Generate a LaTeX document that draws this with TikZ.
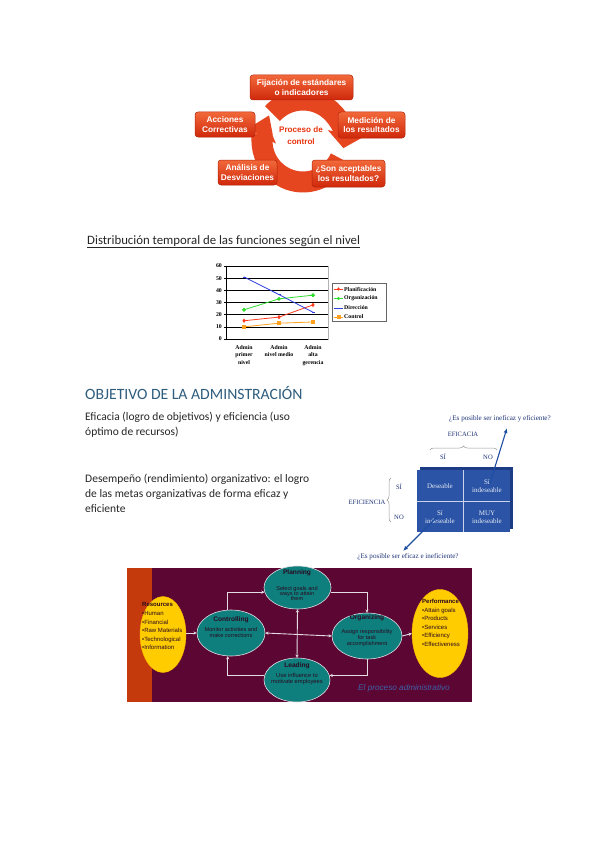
\documentclass[tikz,border=0pt]{standalone}
\usepackage{fontspec}
\setmainfont{Liberation Sans}
\newfontfamily\bodyfont{Carlito}
\newfontfamily\chartfont{Liberation Serif}
\usetikzlibrary{arrows.meta,positioning,calc,shapes.geometric,decorations.pathreplacing,plotmarks}
\definecolor{RingRed}{HTML}{E5461F}
\definecolor{BoxTop}{HTML}{F2693A}
\definecolor{BoxBot}{HTML}{CF280B}
\definecolor{BoxEdge}{HTML}{B3230B}
\definecolor{CtrRed}{HTML}{E8320C}
\definecolor{BodyGray}{HTML}{262626}
\definecolor{HeadBlue}{HTML}{2F5D7E}
\definecolor{PlanRed}{HTML}{FF3A1E}
\definecolor{OrgGreen}{HTML}{2EDD2E}
\definecolor{DirBlue}{HTML}{2F3FE0}
\definecolor{CtlOrange}{HTML}{FFA01E}
\definecolor{MatBlue}{HTML}{2B54A6}
\definecolor{MatDark}{HTML}{1C3D86}
\definecolor{MatText}{HTML}{1F3577}
\definecolor{ArrBlue}{HTML}{1D4EA2}
\definecolor{Maroon}{HTML}{5C0633}
\definecolor{StripRed}{HTML}{C43A0C}
\definecolor{TealE}{HTML}{0E7F7C}
\definecolor{YellowE}{HTML}{FFCC00}
\definecolor{ConnGray}{HTML}{E4DCE2}
\definecolor{LabBlue}{HTML}{3D62A8}
\definecolor{InkDark}{HTML}{2A0A22}

\begin{document}
\begin{tikzpicture}[x=1pt,y=-1pt,
    ring/.style={draw=RingRed,line width=21pt,-{Triangle[width=36pt,length=15pt]}},
    cycbox/.style={rounded corners=3pt,top color=BoxTop,bottom color=BoxBot,draw=BoxEdge,line width=.5pt,
      text=white,align=center,inner sep=1pt,font=\bfseries\fontsize{8.3}{9.6}\selectfont},
    bodytxt/.style={anchor=base west,inner sep=0,text=BodyGray,font=\bodyfont\fontsize{11.5}{12}\selectfont},
    gridln/.style={draw=black,line width=.5pt},
    ser/.style={line width=.8pt,mark size=1.5pt,mark options={solid}},
    chtxt/.style={inner sep=0,font=\chartfont\bfseries\fontsize{5.8}{7.4}\selectfont},
    mtxt/.style={inner sep=0,text=MatText,font=\chartfont\fontsize{6.6}{7}\selectfont},
    cell/.style={inner sep=0,align=center,text=white!88!MatBlue,font=\chartfont\fontsize{7}{8}\selectfont},
    brace/.style={decorate,decoration={brace,amplitude=4pt},draw=gray!80,line width=.5pt},
    qarrow/.style={draw=ArrBlue,line width=1.1pt,-{Latex[length=5pt,width=4pt]}},
    yell/.style={ellipse,fill=YellowE,draw=YellowE!70!orange,line width=.4pt,inner sep=0},
    tealell/.style={ellipse,fill=TealE,draw=ConnGray,line width=.6pt,inner sep=0},
    ehead/.style={inner sep=0,text=InkDark,font=\bfseries\fontsize{6.6}{7}\selectfont},
    ebody/.style={inner sep=0,align=center,text=InkDark,font=\fontsize{5.6}{6.3}\selectfont},
    elist/.style={inner sep=0,align=left,anchor=north west,text=InkDark,font=\fontsize{6}{8.6}\selectfont},
    conn/.style={draw=ConnGray,line width=.9pt,>={Stealth[length=3.2pt,width=3.2pt]},->},
    dconn/.style={conn,<->}]
\useasboundingbox (0,0) rectangle (599,848);
\fill[white] (0,0) rectangle (599,848);

% ciclo de control
\coordinate (rc) at (303,141);
\draw[ring] ($(rc)+(222:41)$) arc[start angle=222,end angle=370,radius=41];
\draw[ring] ($(rc)+(25:41)$) arc[start angle=25,end angle=208,radius=41];
\node[cycbox,minimum width=103,minimum height=25] (fij) at (301.5,87.5) {Fijación de estándares\\o indicadores};
\node[cycbox,minimum width=60,minimum height=25] (acc) at (225,124.5) {Acciones\\Correctivas};
\node[cycbox,minimum width=67,minimum height=26] (med) at (371.5,125) {Medición de\\los resultados};
\node[cycbox,minimum width=59,minimum height=25] (ana) at (247.5,172.5) {Análisis de\\Desviaciones};
\node[cycbox,minimum width=73,minimum height=27] (son) at (348.5,173.5) {¿Son aceptables\\los resultados?};
\node[inner sep=0,align=center,text=CtrRed,font=\bfseries\fontsize{8.1}{12}\selectfont] (pc) at (301,136) {Proceso de\\control};

% textos
\node[bodytxt,font=\bodyfont\fontsize{12.8}{13}\selectfont] (dist) at (87,244) {\underline{Distribución temporal de las funciones según el nivel}};
\node[bodytxt,text=HeadBlue,font=\bodyfont\fontsize{15.7}{16}\selectfont] (obj) at (85,399) {OBJETIVO DE LA ADMINSTRACIÓN};
\node[bodytxt] (e1) at (85,420) {Eficacia (logro de objetivos) y eficiencia (uso};
\node[bodytxt] (e2) at (85,435) {óptimo de recursos)};
\node[bodytxt] (d1) at (85,482) {Desempeño (rendimiento) organizativo: el logro};
\node[bodytxt] (d2) at (85,497) {de las metas organizativas de forma eficaz y};
\node[bodytxt] (d3) at (85,512) {eficiente};

% grafico
\begin{scope}[shift={(226,339)},y=1.217pt]
  \draw[draw=gray!60,line width=.4pt] (0,0) rectangle (102,60);
  \foreach \v in {10,20,...,60} \draw[gridln] (0,\v) -- (102,\v);
  \draw[gridln] (0,0) -- (0,60) (0,0) -- (102,0);
  \foreach \v in {0,10,...,60} {
    \draw[gridln] (-2,\v) -- (0,\v);
    \node[chtxt,anchor=east] (yt\v) at (-4,\v) {\v};
  }
  \draw[ser,PlanRed,mark=diamond*] plot coordinates {(18,15) (53,18) (87,28)};
  \draw[ser,OrgGreen,mark=*] plot coordinates {(18,24) (53,33) (87,36)};
  \draw[ser,DirBlue,mark=-] plot coordinates {(18,51) (53,36.5) (87,22)};
  \draw[ser,CtlOrange,mark=square*] plot coordinates {(18,10) (53,13) (87,14)};
\end{scope}
\node[draw=black!60,fill=white,line width=.4pt,minimum width=54,minimum height=38,inner sep=0] (leg) at (359,302) {};
\foreach \nm/\col/\mk/\yy [count=\i] in {Planificación/PlanRed/diamond*/289,Organización/OrgGreen/*/298.5,Dirección/DirBlue/-/308,Control/CtlOrange/square*/317}{
  \draw[\col,line width=.8pt] (334,\yy) -- (343,\yy);
  \draw[\col,mark=\mk,mark size=1.4pt] plot coordinates {(338.5,\yy)};
  \node[chtxt,anchor=west] (leg\i) at (344,\yy) {\nm};
}
\node[chtxt,anchor=north,align=center] (cat1) at (244,345) {Admin\\primer\\nivel};
\node[chtxt,anchor=north,align=center] (cat2) at (279,345) {Admin\\nivel medio};
\node[chtxt,anchor=north,align=center] (cat3) at (313,345) {Admin\\alta\\gerencia};

% matriz eficacia / eficiencia
\fill[MatDark] (420,467) rectangle (513,529);
\fill[MatBlue] (417,470) rectangle (510,532);
\draw[white!75!MatBlue,line width=.8pt] (463.5,470) -- (463.5,532) (417,501) -- (510,501);
\node[cell] (c11) at (440,486) {Deseable};
\node[cell] (c12) at (487,486) {Sí\\indeseable};
\node[cell] (c21) at (440,517) {Sí\\indeseable};
\node[cell] (c22) at (487,517) {MUY\\indeseable};
\draw[brace] (430,450) -- (497,450);
\draw[brace] (391,522) -- (391,478);
\node[mtxt] (eficacia) at (463,434) {EFICACIA};
\node[mtxt] (siTop) at (443,457) {SÍ};
\node[mtxt] (noTop) at (488,457) {NO};
\node[mtxt] (siIzq) at (399,487) {SÍ};
\node[mtxt] (noIzq) at (399,517) {NO};
\node[mtxt] (eficiencia) at (367,502) {EFICIENCIA};
\node[mtxt,font=\chartfont\fontsize{7.1}{8}\selectfont] (preg1) at (500,419) {¿Es posible ser ineficaz y eficiente?};
\node[mtxt,font=\chartfont\fontsize{7.1}{8}\selectfont] (preg2) at (408,557) {¿Es posible ser eficaz e ineficiente?};
\coordinate (p1s) at (490,483);
\coordinate (p1e) at (507,428);
\coordinate (p2s) at (437,517);
\coordinate (p2e) at (403,551);
\draw[qarrow] (p1s) -- (p1e);
\draw[qarrow] (p2s) -- (p2e);

% proceso administrativo
\fill[Maroon] (127,568) rectangle (472,702);
\fill[StripRed] (127,568) rectangle (152,702);
\node[yell,minimum width=46,minimum height=76] (res) at (163,634.5) {};
\node[yell,minimum width=56,minimum height=88] (perf) at (440,633.5) {};
\node[tealell,minimum width=67,minimum height=43] (plan) at (297.5,587.5) {};
\node[tealell,minimum width=68,minimum height=46] (ctrl) at (231,633) {};
\node[tealell,minimum width=70,minimum height=46] (org) at (367,636) {};
\node[tealell,minimum width=66,minimum height=44] (lead) at (297,680) {};
\node[elist] (resT) at (142,602.5) {\textbf{Resources}\\•Human\\•Financial\\•Raw Materials\\•Technological\\•Information};
\node[elist] (perfT) at (422,599) {\textbf{Performance}\\•Attain goals\\•Products\\•Services\\•Efficiency\\•Effectiveness};
\node[ehead] (planH) at (297,573.3) {Planning};
\node[ebody,font=\fontsize{5.6}{5.3}\selectfont] (planB) at (297,593.6) {Select goals and\\ways to attain\\them};
\node[ehead] (ctrlH) at (231,620) {Controlling};
\node[ebody] (ctrlB) at (231,632.5) {Monitor activities and\\make corrections};
\node[ehead] (orgH) at (367,618.3) {Organizing};
\node[ebody] (orgB) at (367,638) {Assign responsibility\\for task\\accomplishment};
\node[ehead] (leadH) at (297,665.7) {Leading};
\node[ebody,font=\fontsize{5.8}{6}\selectfont] (leadB) at (297,678.7) {Use influence to\\motivate employees};
\draw[conn] (res.east |- ctrl.west) -- (ctrl.west);
\draw[conn] (ctrl.98) |- (plan.188);
\draw[conn] (plan.352) -| (org.north);
\draw[conn] (org.south) |- (lead.8);
\draw[conn] (lead.172) -| (ctrl.262);
\draw[dconn] (plan.south) -- (lead.north);
\draw[dconn] (ctrl.east) -- (org.west);
\draw[conn] (org.east) -- (perf.west);
\node[inner sep=0,text=LabBlue,font=\itshape\fontsize{8.2}{9}\selectfont] (titulo) at (404,688) {El proceso administrativo};
\end{tikzpicture}
\end{document}
